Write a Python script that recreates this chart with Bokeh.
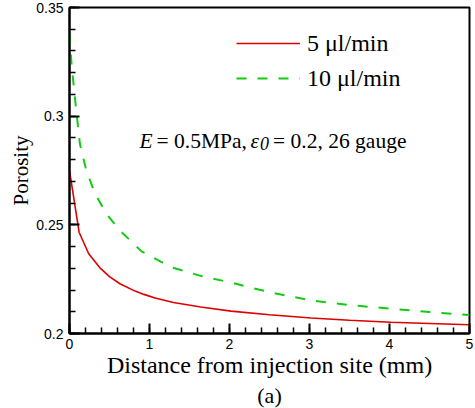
from bokeh.plotting import figure
from bokeh.models import (Range1d, SingleIntervalTicker, FixedTicker, CustomJSTickFormatter,
                          Legend, LegendItem, Label, Title, ColumnDataSource)
from bokeh.embed import file_html
from bokeh.resources import INLINE

# ---- data ----
x_5 = [0, 0.12, 0.24, 0.38, 0.5, 0.63, 0.82, 0.93, 1.07, 1.3, 1.64, 2.02, 2.5, 3.02, 3.5,
       4.02, 4.5, 5.0]
por_5 = [0.275, 0.2466, 0.2367, 0.2302, 0.2262, 0.2229, 0.2195, 0.2180, 0.2163, 0.2143,
         0.2122, 0.2103, 0.2086, 0.2071, 0.2061, 0.2052, 0.2046, 0.2040]

x_10 = [0, 0.025, 0.08, 0.13, 0.21, 0.32, 0.46, 0.63, 0.9, 1.27, 1.64, 2.02, 2.5, 3.02,
        3.5, 4.02, 4.5, 5.0]
por_10 = [0.3380, 0.3241, 0.3041, 0.2873, 0.2750, 0.2643, 0.2551, 0.2474, 0.2378, 0.2305,
          0.2265, 0.2234, 0.2190, 0.2152, 0.2131, 0.2114, 0.2099, 0.2085]

y_major = [0.2, 0.25, 0.3, 0.35]
y_minor = [round(0.2 + 0.01 * i, 2) for i in range(16)]

series_labels = ["5 \u03bcl/min", "10 \u03bcl/min"]
x_title = "Distance from injection site (mm)"
y_title = "Porosity"
sub_label = "(a)"

SERIF = "Liberation Serif"
SANS = "Liberation Sans"

p = figure(width=475, height=408, output_backend="svg", toolbar_location=None,
           x_range=Range1d(0, 5), y_range=Range1d(0.2, 0.35),
           min_border_left=69, min_border_right=6, min_border_top=7, min_border_bottom=75,
           background_fill_color="white", border_fill_color="white")
p.xgrid.visible = False
p.ygrid.visible = False
p.outline_line_color = "black"
p.outline_line_width = 2
p.outline_line_alpha = 1

src5 = ColumnDataSource(dict(x=x_5, y=por_5))
src10 = ColumnDataSource(dict(x=x_10, y=por_10))
r5 = p.line("x", "y", source=src5, line_color="#dd0000", line_width=1.6)
r10 = p.line("x", "y", source=src10, line_color="#11cc11", line_width=2, line_dash="10 11")

p.xaxis.ticker = SingleIntervalTicker(interval=1, num_minor_ticks=5)
p.yaxis.ticker = FixedTicker(ticks=y_major, minor_ticks=y_minor)
p.yaxis.formatter = CustomJSTickFormatter(code="return String(Math.round(tick*100)/100);")

for ax in (p.xaxis[0], p.yaxis[0]):
    ax.axis_line_width = 2
    ax.axis_line_color = "black"
    ax.major_tick_in = 10
    ax.major_tick_out = 0
    ax.minor_tick_in = 6
    ax.minor_tick_out = 0
    ax.major_tick_line_width = 2
    ax.minor_tick_line_width = 1.5
    ax.major_tick_line_color = "black"
    ax.minor_tick_line_color = "black"
    ax.major_label_text_font = SANS
    ax.major_label_text_font_size = "14px"
    ax.major_label_text_color = "black"
    ax.axis_label_text_font = SERIF
    ax.axis_label_text_font_style = "normal"
    ax.axis_label_text_color = "black"
    ax.axis_label_standoff = 0

p.xaxis.axis_label = x_title
p.xaxis.axis_label_text_font_size = "24px"
p.xaxis.major_label_standoff = 5
p.yaxis.axis_label = y_title
p.yaxis.axis_label_text_font_size = "21px"
p.yaxis.major_label_standoff = 6

legend = Legend(items=[LegendItem(label=series_labels[0], renderers=[r5]),
                       LegendItem(label=series_labels[1], renderers=[r10])],
                location=(167, 240), orientation="vertical",
                glyph_width=64, glyph_height=30, label_height=30, spacing=5,
                padding=0, margin=0, label_standoff=7,
                label_text_font=SERIF, label_text_font_size="24px",
                label_text_color="black",
                border_line_alpha=0, background_fill_alpha=0)
p.add_layout(legend)

# annotation: E = 0.5MPa, eps0 = 0.2, 26 gauge
base_y = 0.2888
pieces = [
    ("E", 0.875, base_y, "italic", "21.5px"),
    ("= 0.5MPa,", 1.0875, base_y, "normal", "21.5px"),
    ("\u03b5", 2.2625, base_y, "italic", "21.5px"),
    ("0", 2.381, 0.28741, "italic", "18px"),
    ("= 0.2, 26 gauge", 2.545, base_y, "normal", "21.5px"),
]
for txt, xx, yy, style, size in pieces:
    p.add_layout(Label(x=xx, y=yy, text=txt, text_font=SERIF, text_font_size=size,
                       text_font_style=style, text_color="black",
                       text_baseline="alphabetic", text_align="left"))

# fragment of the next panel's tick label, cut by the bottom edge as in the reference
p.add_layout(Label(x=-0.2625, y=0.1696, text="1.5", text_font=SANS, text_font_size="14px",
                   text_color="black", text_baseline="top", text_align="left"))

p.add_layout(Title(text=sub_label, align="center", text_font=SERIF, text_font_size="22px",
                   text_font_style="normal", text_color="black", standoff=0), "below")

open("out.html", "w").write(file_html(p, INLINE))
